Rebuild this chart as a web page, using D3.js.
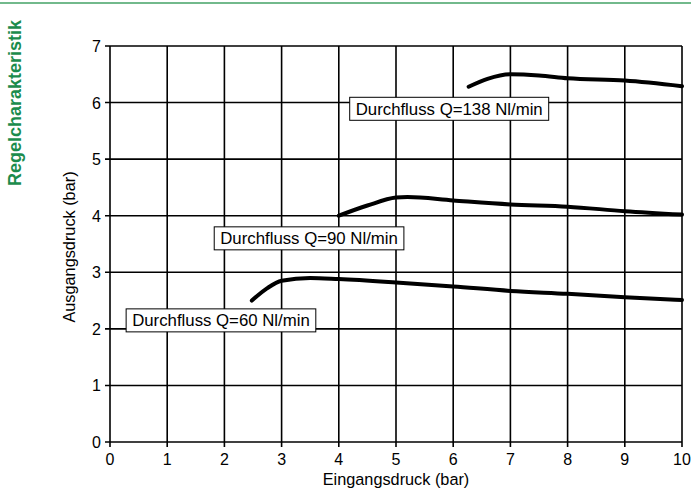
<!DOCTYPE html>
<html>
<head>
<meta charset="utf-8">
<script src="https://cdn.jsdelivr.net/npm/d3@7"></script>
<style>
	body { margin: 0; background: #fff; }
	svg { font-family: "Liberation Sans", Arial, sans-serif; }
</style>
</head>
<body>
<svg></svg>
<script>
const size = { w: 691, h: 490 };
const margin = { t: 46, r: 9, b: 48, l: 110 };

// curve readings from the picture (Eingangsdruck, Ausgangsdruck)
const q60 = [[2.48, 2.5], [2.75, 2.72], [3, 2.85], [3.5, 2.9], [4, 2.88], [5, 2.82], [6, 2.75], [7, 2.67], [8, 2.62], [9, 2.56], [10, 2.51]];
const q90 = [[4, 4.0], [4.5, 4.18], [5, 4.32], [5.2, 4.33], [6, 4.27], [7, 4.2], [8, 4.16], [9, 4.08], [10, 4.02]];
const q138 = [[6.27, 6.28], [6.6, 6.42], [7, 6.5], [7.5, 6.48], [8, 6.43], [9, 6.39], [10, 6.29]];

// label boxes: text, centre x, centre y (data units)
const labels = [
	{ text: "Durchfluss Q=138 Nl/min", x: 5.93, y: 5.89 },
	{ text: "Durchfluss Q=90 Nl/min", x: 3.48, y: 3.6 },
	{ text: "Durchfluss Q=60 Nl/min", x: 1.94, y: 2.15 },
];

const xTicks = [0, 1, 2, 3, 4, 5, 6, 7, 8, 9, 10];
const yTicks = [0, 1, 2, 3, 4, 5, 6, 7];

const svg = d3.select("svg").attr("width", size.w).attr("height", size.h);

// green rule on top and the section title
svg.append("line")
	.attr("x1", 0).attr("x2", size.w)
	.attr("y1", 3).attr("y2", 3)
	.attr("stroke", "#72b98c").attr("stroke-width", 2);

svg.append("text")
	.attr("transform", "translate(21,103) rotate(-90)")
	.attr("text-anchor", "middle")
	.attr("font-size", 18)
	.attr("font-weight", "bold")
	.attr("fill", "#1b8c4c")
	.text("Regelcharakteristik");

let x = d3.scaleLinear().domain([0, 10]).range([margin.l, size.w - margin.r]);
let y = d3.scaleLinear().domain([0, 7]).range([size.h - margin.b, margin.t]);

// grid
let gridG = svg.append("g").classed("grid", true).attr("stroke", "#000").attr("stroke-width", 1.6);
gridG.selectAll("line.v")
	.data(xTicks)
	.join("line")
	.classed("v", true)
	.attr("x1", (d) => x(d)).attr("x2", (d) => x(d))
	.attr("y1", y(0) + 5).attr("y2", y(7));
gridG.selectAll("line.h")
	.data(yTicks)
	.join("line")
	.classed("h", true)
	.attr("x1", x(0) - 5).attr("x2", x(10))
	.attr("y1", (d) => y(d)).attr("y2", (d) => y(d));

// tick labels
svg.append("g")
	.selectAll("text")
	.data(xTicks)
	.join("text")
	.attr("x", (d) => x(d))
	.attr("y", y(0) + 23)
	.attr("text-anchor", "middle")
	.attr("font-size", 16)
	.text((d) => d);

svg.append("g")
	.selectAll("text")
	.data(yTicks)
	.join("text")
	.attr("x", x(0) - 9)
	.attr("y", (d) => y(d) + 6)
	.attr("text-anchor", "end")
	.attr("font-size", 16)
	.text((d) => d);

// axis titles
svg.append("text")
	.attr("x", (x(0) + x(10)) / 2)
	.attr("y", 485)
	.attr("text-anchor", "middle")
	.attr("font-size", 16.3)
	.text("Eingangsdruck (bar)");

svg.append("text")
	.attr("transform", `translate(75,${(y(0) + y(7)) / 2 + 3}) rotate(-90)`)
	.attr("text-anchor", "middle")
	.attr("font-size", 16.3)
	.text("Ausgangsdruck (bar)");

// curves
let line = d3.line()
	.x((d) => x(d[0]))
	.y((d) => y(d[1]))
	.curve(d3.curveMonotoneX);

svg.append("g")
	.selectAll("path")
	.data([q60, q90, q138])
	.join("path")
	.attr("d", line)
	.attr("fill", "none")
	.attr("stroke", "#000")
	.attr("stroke-width", 4)
	.attr("stroke-linecap", "round");

// label boxes
let labelG = svg.append("g")
	.selectAll("g")
	.data(labels)
	.join("g")
	.attr("transform", (d) => `translate(${x(d.x)},${y(d.y)})`);

labelG.append("text")
	.attr("text-anchor", "middle")
	.attr("y", 6)
	.attr("font-size", 16.8)
	.text((d) => d.text);

labelG.each(function () {
	let g = d3.select(this);
	let bb = g.select("text").node().getBBox();
	g.insert("rect", "text")
		.attr("x", bb.x - 6)
		.attr("y", -11.5)
		.attr("width", bb.width + 12)
		.attr("height", 23)
		.attr("fill", "#fff")
		.attr("stroke", "#000")
		.attr("stroke-width", 1);
});
</script>
</body>
</html>
